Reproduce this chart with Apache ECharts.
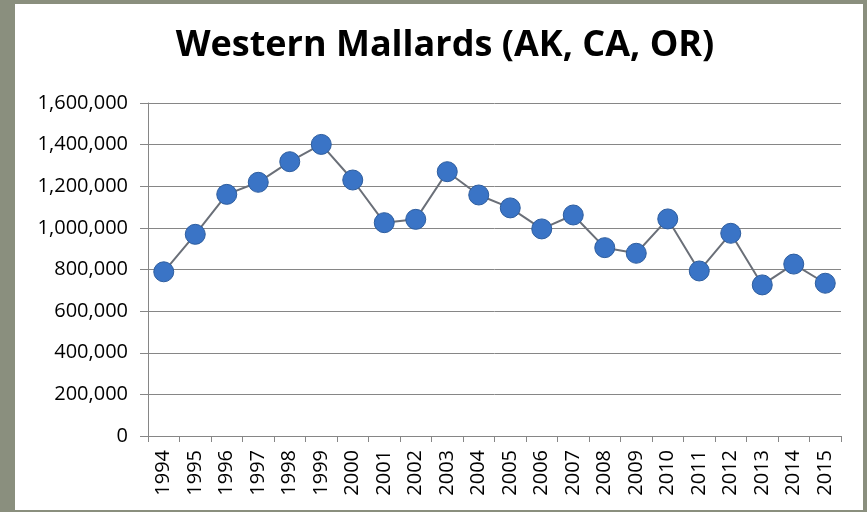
<!DOCTYPE html>
<html>
<head>
<meta charset="utf-8">
<script src="https://cdn.jsdelivr.net/npm/echarts@6/dist/echarts.min.js"></script>
<style>
html,body{margin:0;padding:0;background:#8a8f7e;}
#wrap{position:relative;width:867px;height:512px;background:#8a8f7e;overflow:hidden;}
#panel{position:absolute;left:15px;top:4px;width:848px;height:506px;background:#ffffff;}
#chart{position:absolute;left:0;top:0;width:867px;height:512px;}
</style>
</head>
<body>
<div id="wrap"><div id="panel"></div><div id="chart"></div></div>
<script>
const titleText = 'Western Mallards (AK, CA, OR)';
const years = ['1994','1995','1996','1997','1998','1999','2000','2001','2002','2003','2004','2005','2006','2007','2008','2009','2010','2011','2012','2013','2014','2015'];
const mallards = [789000, 969000, 1161000, 1219000, 1318000, 1401000, 1230000, 1025000, 1041000, 1270000, 1158000, 1096000, 995000, 1062000, 905000, 878000, 1043000, 793000, 974000, 726000, 826000, 734000];
const yTicks = {min: 0, max: 1600000, interval: 200000};

const chart = echarts.init(document.getElementById('chart'), null, {renderer: 'canvas'});
chart.setOption({
  backgroundColor: 'transparent',
  animation: false,
  title: {
    text: titleText,
    left: 440,
    top: 23,
    textAlign: 'center',
    textStyle: {fontFamily: 'Open Sans', fontWeight: 'bold', fontSize: 36, color: '#000'}
  },
  grid: {left: 148, right: 26, top: 103, bottom: 76, containLabel: false},
  xAxis: {
    type: 'category',
    data: years,
    boundaryGap: true,
    axisLine: {show: true, lineStyle: {color: '#868686', width: 1}},
    axisTick: {show: true, length: 6, alignWithLabel: false, lineStyle: {color: '#868686'}},
    axisLabel: {rotate: 90, margin: 14, fontFamily: 'Open Sans', fontSize: 20, color: '#000', interval: 0}
  },
  yAxis: {
    type: 'value',
    min: yTicks.min,
    max: yTicks.max,
    interval: yTicks.interval,
    axisLine: {show: true, lineStyle: {color: '#868686', width: 1}},
    axisTick: {show: true, length: 8, lineStyle: {color: '#868686'}},
    splitLine: {show: true, lineStyle: {color: '#868686', width: 1}},
    axisLabel: {
      margin: 20,
      fontFamily: 'Open Sans', fontSize: 20, color: '#000',
      formatter: v => v.toLocaleString('en-US')
    }
  },
  series: [{
    type: 'line',
    data: mallards,
    symbol: 'circle',
    symbolSize: 20,
    lineStyle: {color: '#6a6f78', width: 2},
    itemStyle: {color: '#3a74c6', borderColor: '#2c5c9e', borderWidth: 1},
    z: 3
  }]
});
</script>
</body>
</html>
